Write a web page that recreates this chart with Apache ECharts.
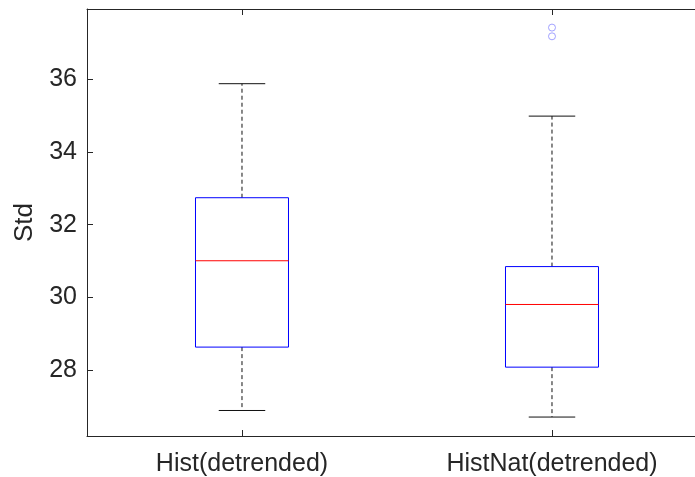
<!DOCTYPE html>
<html>
<head>
<meta charset="utf-8">
<script src="https://cdn.jsdelivr.net/npm/echarts@6/dist/echarts.min.js"></script>
<style>html,body{margin:0;padding:0;background:#fff;}#c{width:695px;height:477px;}</style>
</head>
<body>
<div id="c"></div>
<script>
// Data
var categories = ['Hist(detrended)', 'HistNat(detrended)'];
// [lowerWhisker, Q1, median, Q3, upperWhisker]
var histStats = [26.90, 28.64, 31.01, 32.74, 35.87];
var histNatStats = [26.72, 28.09, 29.81, 30.85, 34.98];
// outliers: [position, value]
var outliers = [[2, 37.41], [2, 37.17]];
var yTicks = [28, 30, 32, 34, 36];
var xTicks = [1, 2];

var boxData = [
  [1].concat(histStats),
  [2].concat(histNatStats)
];

var chart = echarts.init(document.getElementById('c'));
var axisColor = '#262626';
var font = 'Liberation Sans, Arial, sans-serif';

function renderBox(params, api) {
  var pos = api.value(0);
  var lo = api.coord([pos, api.value(1)]);
  var q1 = api.coord([pos, api.value(2)]);
  var med = api.coord([pos, api.value(3)]);
  var q3 = api.coord([pos, api.value(4)]);
  var hi = api.coord([pos, api.value(5)]);
  var unit = api.size([1, 0])[0];
  var bw = unit * 0.3;
  var cw = bw / 2;
  var x = lo[0];
  var dash = {stroke: '#111', lineWidth: 1, lineDash: [4, 3]};
  var solid = {stroke: '#111', lineWidth: 1};
  return {
    type: 'group',
    children: [
      {type: 'line', shape: {x1: x, y1: q3[1], x2: x, y2: hi[1]}, style: dash},
      {type: 'line', shape: {x1: x, y1: q1[1], x2: x, y2: lo[1]}, style: dash},
      {type: 'line', shape: {x1: x - cw / 2, y1: hi[1], x2: x + cw / 2, y2: hi[1]}, style: solid},
      {type: 'line', shape: {x1: x - cw / 2, y1: lo[1], x2: x + cw / 2, y2: lo[1]}, style: solid},
      {type: 'rect', shape: {x: x - bw / 2, y: q3[1], width: bw, height: q1[1] - q3[1]},
        style: {fill: 'none', stroke: '#0000ff', lineWidth: 1}},
      {type: 'line', shape: {x1: x - bw / 2, y1: med[1], x2: x + bw / 2, y2: med[1]},
        style: {stroke: '#ff0000', lineWidth: 1}}
    ]
  };
}

function xLabel(v) {
  var i = Math.round(v) - 1;
  return categories[i] || '';
}

var option = {
  animation: false,
  backgroundColor: '#fff',
  grid: {left: 87, top: 9, right: 0, height: 427, containLabel: false},
  xAxis: [{
    type: 'value',
    min: 0.5,
    max: 2.4613,
    axisLine: {show: true, onZero: false, lineStyle: {color: axisColor, width: 1}},
    axisTick: {show: true, inside: true, length: 6, customValues: xTicks, lineStyle: {color: axisColor}},
    axisLabel: {color: axisColor, fontSize: 25, fontFamily: font, margin: 16, customValues: xTicks, formatter: xLabel},
    splitLine: {show: false}
  }, {
    type: 'value',
    position: 'top',
    min: 0.5,
    max: 2.4613,
    axisLine: {show: true, onZero: false, lineStyle: {color: axisColor, width: 1}},
    axisTick: {show: true, inside: true, length: 6, customValues: xTicks, lineStyle: {color: axisColor}},
    axisLabel: {show: false},
    splitLine: {show: false}
  }],
  yAxis: {
    type: 'value',
    min: 26.2,
    max: 37.92,
    name: 'Std',
    nameLocation: 'middle',
    nameRotate: 90,
    nameGap: 40,
    nameTextStyle: {color: axisColor, fontSize: 26, fontFamily: font},
    axisLine: {show: true, lineStyle: {color: axisColor, width: 1}},
    axisTick: {show: true, inside: true, length: 6, customValues: yTicks, lineStyle: {color: axisColor}},
    axisLabel: {color: axisColor, fontSize: 25, fontFamily: font, margin: 10, customValues: yTicks},
    splitLine: {show: false}
  },
  series: [{
    type: 'custom',
    renderItem: renderBox,
    data: boxData,
    encode: {x: 0, y: [1, 2, 3, 4, 5]},
    silent: true
  }, {
    type: 'scatter',
    data: outliers,
    symbol: 'circle',
    symbolSize: 7,
    itemStyle: {color: 'rgba(0,0,0,0)', borderColor: '#8c8cff', borderWidth: 1},
    silent: true
  }]
};
chart.setOption(option);
</script>
</body>
</html>
